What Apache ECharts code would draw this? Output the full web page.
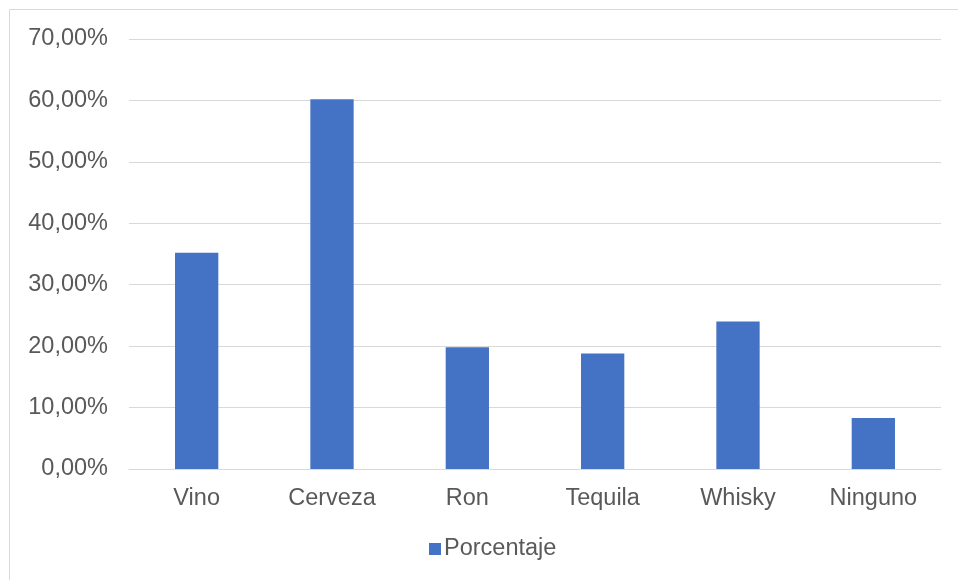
<!DOCTYPE html>
<html>
<head>
<meta charset="utf-8">
<script src="https://cdn.jsdelivr.net/npm/echarts@6/dist/echarts.min.js"></script>
<style>
  html, body { margin: 0; padding: 0; background: #ffffff; }
  #chart { width: 958px; height: 580px; }
</style>
</head>
<body>
<div id="chart"></div>
<script>
// Bebidas preferidas (porcentaje de respuestas)
const categories = ['Vino', 'Cerveza', 'Ron', 'Tequila', 'Whisky', 'Ninguno'];
const porcentaje = [35.2, 60.2, 19.8, 18.8, 24.0, 8.3];
const seriesName = 'Porcentaje';

const yMin = 0;
const yMax = 70;
const yStep = 10;

const FONT = 'Arial';
const TEXT = '#595959';
const SIZE = 23.5;

const chart = echarts.init(document.getElementById('chart'), null, { renderer: 'canvas' });

chart.setOption({
  animation: false,
  backgroundColor: '#ffffff',
  textStyle: { fontFamily: FONT },
  graphic: [{
    type: 'rect',
    silent: true,
    shape: { x: 9.5, y: 9.5, width: 1200, height: 1200 },
    style: { fill: 'none', stroke: '#d9d9d9', lineWidth: 1 }
  }],
  grid: { left: 129, right: 17, top: 39, bottom: 111, containLabel: false },
  legend: {
    data: [seriesName],
    top: 537,
    left: 429,
    padding: 0,
    icon: 'rect',
    itemWidth: 12,
    itemHeight: 12,
    itemGap: 6,
    textStyle: { color: TEXT, fontSize: SIZE, fontFamily: FONT, padding: [2, 0, 0, -2] }
  },
  xAxis: {
    type: 'category',
    data: categories,
    axisLine: { show: true, lineStyle: { color: '#d9d9d9', width: 1 } },
    axisTick: { show: false },
    axisLabel: { color: TEXT, fontSize: SIZE, fontFamily: FONT, margin: 18 }
  },
  yAxis: {
    type: 'value',
    min: yMin,
    max: yMax,
    interval: yStep,
    axisLine: { show: false },
    axisTick: { show: false },
    splitLine: { lineStyle: { color: '#d9d9d9', width: 1 } },
    axisLabel: {
      color: TEXT,
      fontSize: SIZE,
      fontFamily: FONT,
      margin: 21,
      padding: [3, 0, 0, 0],
      formatter: v => v.toFixed(2).replace('.', ',') + '%'
    }
  },
  series: [{
    name: seriesName,
    type: 'bar',
    data: porcentaje,
    barWidth: '32%',
    itemStyle: { color: '#4472C4' }
  }]
});
</script>
</body>
</html>
